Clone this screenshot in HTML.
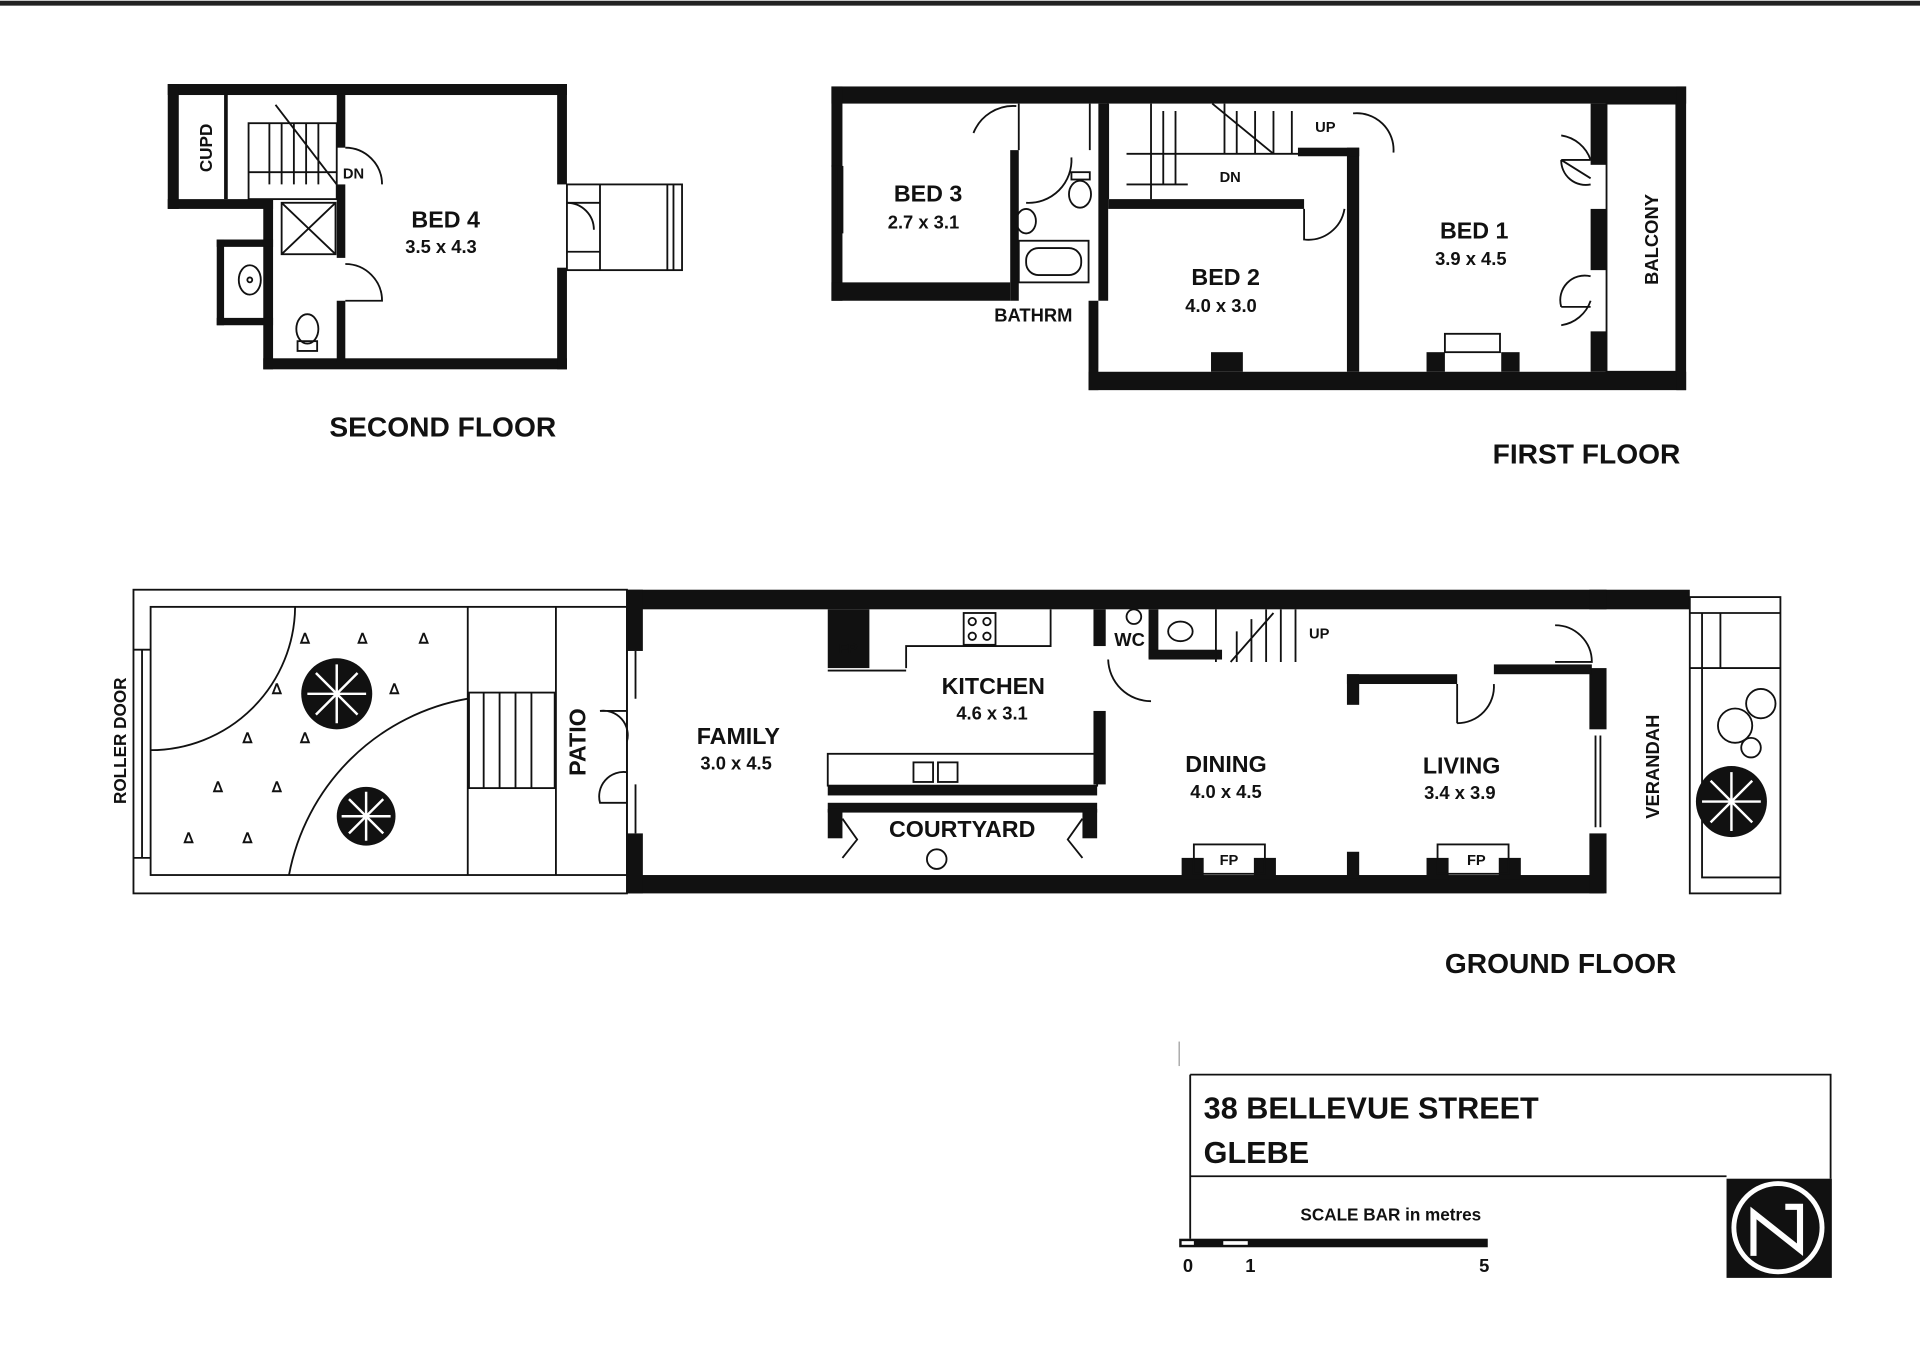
<!DOCTYPE html>
<html><head><meta charset="utf-8"><style>
html,body{margin:0;padding:0;background:#fff;}
svg{display:block;}
text{font-family:"Liberation Sans",Arial,sans-serif;font-weight:bold;fill:#111;}
</style></head><body>
<svg width="1920" height="1357" viewBox="0 0 1568 1107" xmlns="http://www.w3.org/2000/svg">
<rect x="0" y="0" width="1568" height="4" fill="#222"/>
<g fill="#111">
<rect x="137" y="68" width="326" height="9"/>
<rect x="137" y="68" width="9" height="102"/>
<rect x="137" y="162" width="86" height="8"/>
<rect x="215" y="162" width="8" height="139"/>
<rect x="177" y="195" width="46" height="6"/>
<rect x="177" y="195" width="6" height="70"/>
<rect x="177" y="259" width="46" height="6"/>
<rect x="215" y="292" width="248" height="9"/>
<rect x="455" y="68" width="8" height="82"/>
<rect x="455" y="218" width="8" height="83"/>
<rect x="275" y="76" width="7" height="44"/>
<rect x="275" y="150" width="7" height="60"/>
<rect x="275" y="245" width="7" height="50"/>
<rect x="183" y="76" width="3" height="86"/>
<rect x="679" y="70" width="698" height="14"/>
<rect x="679" y="70" width="9" height="175"/>
<rect x="679" y="230" width="146" height="15"/>
<rect x="825" y="122" width="7" height="123"/>
<rect x="889" y="245" width="8" height="73"/>
<rect x="889" y="303" width="488" height="15"/>
<rect x="1369" y="70" width="8" height="248"/>
<rect x="1299" y="84" width="13" height="50"/>
<rect x="1299" y="170" width="13" height="50"/>
<rect x="1299" y="270" width="13" height="33"/>
<rect x="1100" y="120" width="10" height="183"/>
<rect x="905" y="162" width="160" height="8"/>
<rect x="897" y="84" width="8" height="161"/>
<rect x="1060" y="120" width="50" height="7"/>
<rect x="989" y="287" width="26" height="16"/>
<rect x="1165" y="287" width="15" height="16"/>
<rect x="1226" y="287" width="15" height="16"/>
<rect x="512" y="481" width="868" height="16"/>
<rect x="512" y="714" width="798" height="15"/>
<rect x="512" y="481" width="13" height="50"/>
<rect x="512" y="680" width="13" height="49"/>
<rect x="1298" y="545" width="14" height="50"/>
<rect x="1298" y="680" width="14" height="49"/>
<rect x="1298" y="481" width="14" height="16"/>
<rect x="893" y="580" width="10" height="60"/>
<rect x="893" y="497" width="10" height="30"/>
<rect x="1100" y="550" width="90" height="8"/>
<rect x="1100" y="550" width="10" height="25"/>
<rect x="1220" y="542" width="80" height="8"/>
<rect x="676" y="497" width="34" height="48"/>
<rect x="676" y="641" width="220" height="8"/>
<rect x="676" y="655" width="220" height="8"/>
<rect x="676" y="660" width="12" height="24"/>
<rect x="884" y="660" width="12" height="24"/>
<rect x="965" y="700" width="18" height="18"/>
<rect x="1024" y="700" width="18" height="18"/>
<rect x="1100" y="695" width="10" height="22"/>
<rect x="1165" y="700" width="18" height="18"/>
<rect x="1224" y="700" width="18" height="18"/>
<rect x="938" y="497" width="8" height="40"/>
<rect x="938" y="530" width="60" height="8"/>
<rect x="1410" y="962" width="86" height="81"/>
<rect x="963" y="1011" width="252" height="7"/>
</g>
<g fill="none" stroke="#111" stroke-width="1.5">
<rect x="203" y="100" width="72" height="62"/>
<line x1="203" y1="140" x2="275" y2="140"/>
<path d="M225 85 L275 150 M220 150 L220 100 M230 150 L230 100 M240 150 L240 100 M250 150 L250 100 M260 150 L260 100"/>
<rect x="230" y="165" width="44" height="42"/>
<path d="M230 165 L274 207 M274 165 L230 207"/>
<path d="M282 120 A30 30 0 0 1 312 150"/>
<path d="M282 215 A30 30 0 0 1 312 245 L282 245"/>
<rect x="463" y="150" width="94" height="70"/>
<path d="M490 150 L490 220 M545 150 L545 220 M550 150 L550 220 M463 165 L490 165 M463 205 L490 205"/>
<path d="M463 165 A22 22 0 0 1 485 187"/>
<ellipse cx="204" cy="228" rx="9" ry="12"/>
<circle cx="204" cy="228" r="2"/>
<ellipse cx="251" cy="268" rx="9" ry="12"/>
<rect x="243" y="278" width="16" height="8"/>
<path d="M905 84 L905 162 M940 84 L940 162 M1000 84 L1000 125 M920 125 L1100 125"/>
<path d="M920 150 L970 150 M950 90 L950 150 M960 90 L960 150 M1010 90 L1010 125 M1025 90 L1025 125 M1040 90 L1040 125 M1055 90 L1055 125 M990 84 L1040 125"/>
<path d="M832 84 L832 122 M890 84 L890 122"/>
<path d="M795 108 A35 35 0 0 1 830 86"/>
<path d="M1105 92 A30 30 0 0 1 1138 124"/>
<path d="M1065 170 L1065 195 A30 30 0 0 0 1098 170"/>
<path d="M838 165 A35 35 0 0 0 875 128"/>
<rect x="832" y="196" width="57" height="34"/>
<rect x="838" y="202" width="45" height="22" rx="10"/>
<ellipse cx="838" cy="180" rx="8" ry="10"/>
<ellipse cx="882" cy="158" rx="9" ry="11"/>
<rect x="875" y="140" width="15" height="6"/>
<rect x="1312" y="84" width="57" height="219"/>
<path d="M1275 130 L1299 130 M1275 130 L1299 145 M1275 130 A20 20 0 0 0 1299 150 M1275 250 A20 20 0 0 1 1299 225 M1275 250 L1299 250"/>
<path d="M1275 110 A30 30 0 0 1 1299 130 M1275 265 A30 30 0 0 0 1299 245"/>
<rect x="1180" y="272" width="45" height="15"/>
<path d="M688 135 L679 135 M688 135 L688 190 M683 135 L683 190"/>
<path d="M891 252 L891 300 M896 252 L896 300"/>
<rect x="109" y="481" width="403" height="248"/>
<rect x="123" y="495" width="389" height="219"/>
<path d="M123 530 L109 530 M116 530 L116 700 M123 700 L109 700"/>
<path d="M123 612 A118 118 0 0 0 241 495"/>
<path d="M236 714 A180 180 0 0 1 382 570"/>
<path d="M382 495 L382 714 M454 495 L454 714"/>
<rect x="383" y="565" width="70" height="78"/>
<path d="M395 565 L395 643 M408 565 L408 643 M421 565 L421 643 M434 565 L434 643"/>
<path d="M519 531 L519 570 M519 640 L519 680"/>
<path d="M512 580 L490 580 A20 20 0 0 1 512 605 M512 630 A20 20 0 0 0 490 655 L512 655"/>
<path d="M740 545 L740 527 L858 527 L858 497"/>
<path d="M676 547 L740 547"/>
<rect x="676" y="615" width="220" height="26"/>
<rect x="746" y="622" width="16" height="16"/><rect x="766" y="622" width="16" height="16"/>
<rect x="787" y="500" width="26" height="26"/>
<circle cx="794" cy="507" r="3"/><circle cx="806" cy="507" r="3"/><circle cx="794" cy="519" r="3"/><circle cx="806" cy="519" r="3"/>
<path d="M688 668 L700 685 L688 700 M884 668 L872 685 L884 700"/>
<circle cx="765" cy="701" r="8"/>
<path d="M905 538 A35 35 0 0 0 940 572"/>
<ellipse cx="964" cy="515" rx="10" ry="8"/>
<circle cx="926" cy="503" r="6"/>
<path d="M993 497 L993 540 M1058 497 L1058 540 M1005 540 L1040 500 M1010 515 L1010 540 M1022 505 L1022 540 M1034 497 L1034 540 M1046 497 L1046 540"/>
<path d="M1190 590 A30 30 0 0 0 1220 558 M1190 558 L1190 590"/>
<path d="M1270 510 A30 30 0 0 1 1300 540 L1270 540"/>
<path d="M1303 600 L1303 675 M1307 600 L1307 675"/>
<rect x="975" y="689" width="58" height="24"/><rect x="1174" y="689" width="58" height="24"/>
<rect x="1380" y="487" width="74" height="242"/>
<path d="M1380 500 L1454 500 M1390 500 L1390 545 M1405 500 L1405 545 M1380 545 L1454 545 M1390 545 L1390 716 L1454 716"/>
<circle cx="1417" cy="592" r="14"/><circle cx="1438" cy="574" r="12"/><circle cx="1430" cy="610" r="8"/>
<path d="M972 877 L1495 877 L1495 962 M972 877 L972 1011 M972 960 L1410 960"/>
<line x1="963" y1="850" x2="963" y2="870" stroke="#999" stroke-width="1"/>
</g>
<g fill="#fff"><rect x="999" y="1013" width="20" height="3"/><rect x="965" y="1013" width="10" height="3"/></g>
<g>
<circle cx="275" cy="566" r="29" fill="#111"/>
<path d="M275 542 L275 590 M251 566 L299 566 M258 549 L292 583 M292 549 L258 583" stroke="#fff" stroke-width="2"/>
<circle cx="299" cy="666" r="24" fill="#111"/>
<path d="M299 646 L299 686 M279 666 L319 666 M285 652 L313 680 M313 652 L285 680" stroke="#fff" stroke-width="2"/>
<circle cx="1414" cy="654" r="29" fill="#111"/>
<path d="M1414 630 L1414 678 M1390 654 L1438 654 M1397 637 L1431 671 M1431 637 L1397 671" stroke="#fff" stroke-width="2"/>
<circle cx="1452" cy="1002" r="36" fill="none" stroke="#fff" stroke-width="4"/>
<path d="M1432 1025 L1432 990 L1470 1020 L1470 985 L1458 985" fill="none" stroke="#fff" stroke-width="5"/>
</g>
<g font-size="12" fill="#111">
<text x="245" y="525">ᐃ</text><text x="292" y="525">ᐃ</text><text x="342" y="525">ᐃ</text><text x="222" y="566">ᐃ</text><text x="318" y="566">ᐃ</text><text x="198" y="606">ᐃ</text><text x="245" y="606">ᐃ</text><text x="174" y="646">ᐃ</text><text x="222" y="646">ᐃ</text><text x="150" y="688">ᐃ</text><text x="198" y="688">ᐃ</text>
</g>
<g font-size="19">
<text x="336" y="185">BED 4</text><text x="730" y="164">BED 3</text><text x="973" y="232">BED 2</text><text x="1176" y="194">BED 1</text>
<text x="569" y="607">FAMILY</text><text x="769" y="566">KITCHEN</text><text x="726" y="683">COURTYARD</text><text x="968" y="630">DINING</text><text x="1162" y="631">LIVING</text>
</g>
<g font-size="15">
<text x="331" y="206">3.5 x 4.3</text><text x="725" y="186">2.7 x 3.1</text><text x="968" y="254">4.0 x 3.0</text><text x="1172" y="216">3.9 x 4.5</text>
<text x="572" y="628">3.0 x 4.5</text><text x="781" y="587">4.6 x 3.1</text><text x="972" y="651">4.0 x 4.5</text><text x="1163" y="652">3.4 x 3.9</text>
<text x="812" y="262">BATHRM</text><text x="910" y="527">WC</text>
</g>
<g font-size="12">
<text x="280" y="145">DN</text><text x="996" y="148">DN</text><text x="1074" y="107">UP</text><text x="1069" y="521">UP</text>
<text x="685" y="533">FP</text><text x="996" y="706">FP</text><text x="1198" y="706">FP</text>
</g>
<text x="173" y="140" font-size="14" transform="rotate(-90 173 140)">CUPD</text>
<text x="1354" y="232" font-size="15" transform="rotate(-90 1354 232)">BALCONY</text>
<text x="103" y="656" font-size="14" transform="rotate(-90 103 656)">ROLLER DOOR</text>
<text x="478" y="633" font-size="19" transform="rotate(-90 478 633)">PATIO</text>
<text x="1355" y="668" font-size="15" transform="rotate(-90 1355 668)">VERANDAH</text>
<g font-size="23">
<text x="269" y="356">SECOND FLOOR</text><text x="1219" y="378">FIRST FLOOR</text><text x="1180" y="794">GROUND FLOOR</text>
</g>
<g font-size="25" font-weight="normal">
<text x="983" y="913">38 BELLEVUE STREET</text><text x="983" y="949">GLEBE</text>
</g>
<text x="1062" y="996" font-size="14">SCALE BAR in metres</text>
<g font-size="15"><text x="966" y="1038">0</text><text x="1017" y="1038">1</text><text x="1208" y="1038">5</text></g>
</svg>
</body></html>
